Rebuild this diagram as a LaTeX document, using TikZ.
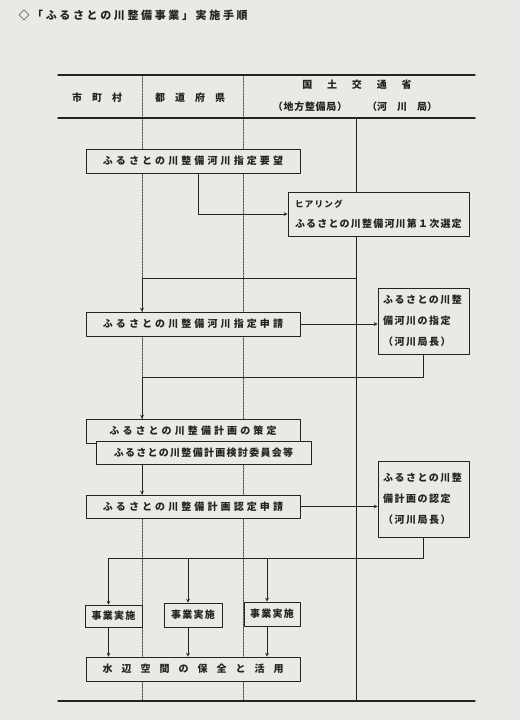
\documentclass[tikz,border=0pt]{standalone}
\usepackage{fontspec}
\newfontfamily\jpfont{Noto Sans CJK JP}
\definecolor{paper}{RGB}{233,233,230}
\definecolor{ink}{RGB}{35,35,35}
% letter spaced text
\newcommand\ls[2]{{\addfontfeature{LetterSpace=#1}#2}}
\tikzset{
box/.style={draw=ink,line width=0.9pt,fill=paper,inner sep=0pt,minimum height=24pt,text=ink,font=\jpfont\bfseries\fontsize{10}{12}\selectfont},
tbox/.style={box,align=left,inner xsep=5pt,text width=81pt,font=\jpfont\bfseries\fontsize{10}{21}\selectfont},
lane/.style={ink,line width=0.5pt,densely dotted},
rule/.style={ink,line width=1.4pt},
flow/.style={ink,line width=0.7pt},
head/.style={text=ink,font=\jpfont\bfseries\fontsize{10}{12}\selectfont}
}
\begin{document}
\begin{tikzpicture}[line cap=round,line join=round,>=stealth,x=1pt,y=-1pt]
\fill[paper] (0,0) rectangle (520,720);
\useasboundingbox (0,0) rectangle (520,720);
\node[head,anchor=west,font=\jpfont\bfseries\fontsize{11}{13}\selectfont] (midashi) at (15,15) {\ls{24}{◇「ふるさとの川整備事業」実施手順}};
% header and lanes
\draw[rule] (58,75)--(475,75);
\draw[rule] (58,118)--(475,118);
\draw[rule] (58,701)--(475,701);
\foreach \x in {142,243}
{
\draw[lane] (\x,75)--(\x,701);
}
\draw[flow] (356,118)--(356,701);
\node[head] (shichoson) at (97,98) {\ls{100}{市町村}};
\node[head] (todofuken) at (190,98) {\ls{100}{都道府県}};
\node[head] (kokudo) at (357,85) {\ls{148}{国土交通省}};
\node[head] (seibikyoku) at (310,107) {\ls{7}{（地方整備局）}};
\node[head] (kasenkyoku) at (402,107) {（\ls{100}{河川局}）};
% boxes
\node[box,minimum width=214pt] (youbou) at (193,161) {\ls{31}{ふるさとの川整備河川指定要望}};
\node[box,align=left,inner xsep=7pt,text width=167pt,minimum height=44pt,font=\jpfont\bfseries\fontsize{10}{20}\selectfont] (hearing) at (378.5,214) {{\fontsize{8.5}{20}\selectfont\ls{15}{ヒアリング}}\\\ls{12}{ふるさとの川整備河川第１次選定}};
\node[box,minimum width=214pt] (shinsei) at (193,324) {\ls{31}{ふるさとの川整備河川指定申請}};
\node[tbox,minimum height=66pt] (shitei) at (423.5,321) {\ls{15}{ふるさとの川整}\\\ls{15}{備河川の指定}\\\ls{15}{（河川局長）}};
\node[box,minimum width=214pt] (sakutei) at (193,431) {\ls{31}{ふるさとの川整備計画の策定}};
\node[box,minimum width=215pt,minimum height=23pt] (iinkai) at (203.5,452.5) {\ls{13}{ふるさとの川整備計画検討委員会等}};
\node[box,minimum width=214pt,minimum height=23pt] (ninteishinsei) at (193,506.5) {\ls{31}{ふるさとの川整備計画認定申請}};
\node[tbox,minimum height=76pt] (nintei) at (423.5,499) {\ls{15}{ふるさとの川整}\\\ls{15}{備計画の認定}\\\ls{15}{（河川局長）}};
\node[box,minimum width=57pt,minimum height=22pt] (jigyoA) at (113.5,616) {\ls{13}{事業実施}};
\node[box,minimum width=58pt] (jigyoB) at (193,615) {\ls{13}{事業実施}};
\node[box,minimum width=56pt] (jigyoC) at (272,614) {\ls{13}{事業実施}};
\node[box,minimum width=214pt] (hozen) at (193,669) {\ls{90}{水辺空間の保全と活用}};
% flow
\coordinate (kyoku) at (356,278);
\draw[flow,->] ([xshift=5pt]youbou.south) |- (hearing.west);
\draw[flow,->] (kyoku) -| ([xshift=-51pt]shinsei.north);
\draw[flow,->] (shinsei.east) -- (shinsei.east -| shitei.west);
\draw[flow,->] (shitei.south) -- ++(0,23) -| ([xshift=-51pt]sakutei.north);
\draw[flow,->] ([xshift=-61.5pt]iinkai.south) -- ([xshift=-51pt]ninteishinsei.north);
\draw[flow,->] (ninteishinsei.east) -- (ninteishinsei.east -| nintei.west);
\draw[flow,->] (nintei.south) -- ++(0,21) coordinate (bunki) -| ([xshift=-5pt]jigyoA.north);
\foreach \n in {jigyoB,jigyoC}
{
\draw[flow,->] ([xshift=-5pt]\n.north |- bunki) -- ([xshift=-5pt]\n.north);
}
\foreach \n in {jigyoA,jigyoB,jigyoC}
{
\draw[flow,->] ([xshift=-5pt]\n.south) -- ([xshift=-5pt]\n.south |- hozen.north);
}
\end{tikzpicture}
\end{document}
